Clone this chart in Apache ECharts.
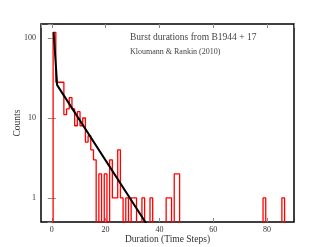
<!DOCTYPE html>
<html><head><meta charset="utf-8">
<script src="https://cdn.jsdelivr.net/npm/echarts@6/dist/echarts.min.js"></script>
<style>html,body{margin:0;padding:0;background:#fff}#c{width:327px;height:247px}</style>
</head><body><div id="c"></div>
<script>
// Histogram: durations (time steps) with non-zero counts, and their counts
const durations = [1,2,3,4,5,6,7,8,9,10,11,12,13,14,15,16,18,20,22,23,24,25,26,28,30,31,34,37,43,44,46,47,79,86];
const counts    = [118,28,28,28,11,13,18,13,8,12,8,10,5,6,4,3,2,2,3,1,1,4,1,1,1,1,1,1,1,1,2,2,1,1];
// Fitted model curve
const fitX = [0.7, 2, 36];
const fitY = [118, 25.8, 0.43];
const titleText = 'Burst durations from B1944 + 17';
const subText = 'Kloumann & Rankin (2010)';

const ZERO = 0.3; // zero counts drawn below the log-axis floor (clipped)
const lookup = new Map(durations.map((d, i) => [d, counts[i]]));
const maxD = durations[durations.length - 1];
const hist = [[durations[0] - 0.5, ZERO]];
for (let d = durations[0]; d <= maxD; d++) hist.push([d - 0.5, lookup.get(d) || ZERO]);
hist.push([maxD + 0.5, ZERO]);
const fit = fitX.map((x, i) => [x, fitY[i]]);

const serif = 'Liberation Serif';
const tickStyle = {inside: true, length: 4, lineStyle: {color: '#888', width: 1}};
const chart = echarts.init(document.getElementById('c'), null, {renderer: 'canvas'});
chart.setOption({
  animation: false,
  title: [
    {text: titleText, left: 130, top: 32, padding: 0, textStyle: {fontFamily: serif, fontSize: 9.5, fontWeight: 'normal', color: '#444'}},
    {text: subText, left: 130, top: 48, padding: 0, textStyle: {fontFamily: serif, fontSize: 8, fontWeight: 'normal', color: '#444'}}
  ],
  grid: {left: 41, top: 24, right: 33, bottom: 25, outerBoundsMode: 'none', containLabel: false,
         show: true, borderColor: '#000', borderWidth: 1.5, backgroundColor: 'transparent'},
  xAxis: [
    {type: 'value', min: -4, max: 90, splitNumber: 5, axisLine: {show: false}, axisTick: tickStyle,
     axisLabel: {showMinLabel: false, showMaxLabel: false, margin: 4, fontFamily: serif, fontSize: 8, color: '#333'},
     splitLine: {show: false}, name: 'Duration (Time Steps)', nameLocation: 'middle', nameGap: 12, nameMoveOverlap: false,
     nameTextStyle: {fontFamily: serif, fontSize: 9.5, color: '#333'}},
    {type: 'value', position: 'top', min: -4, max: 90, splitNumber: 5, axisLine: {show: false}, axisTick: tickStyle,
     axisLabel: {show: false}, splitLine: {show: false}}
  ],
  yAxis: [
    {type: 'log', logBase: 10, min: 0.5, max: 150, axisLine: {show: false}, axisTick: tickStyle,
     axisLabel: {showMinLabel: false, showMaxLabel: false, margin: 5, fontFamily: serif, fontSize: 8, color: '#333'},
     splitLine: {show: false}, minorTick: {show: false}, name: 'Counts', nameLocation: 'middle', nameGap: 19, nameMoveOverlap: false,
     nameTextStyle: {fontFamily: serif, fontSize: 9.5, color: '#333'}},
    {type: 'log', logBase: 10, min: 0.5, max: 150, position: 'right', axisLine: {show: false}, axisTick: tickStyle,
     axisLabel: {show: false}, splitLine: {show: false}}
  ],
  series: [
    {type: 'line', data: hist, step: 'end', symbol: 'none', clip: true, z: 2,
     lineStyle: {color: '#ff0000', width: 1.3}},
    {type: 'line', data: fit, symbol: 'none', clip: true, z: 3,
     lineStyle: {color: '#000000', width: 2}}
  ]
});
</script></body></html>
